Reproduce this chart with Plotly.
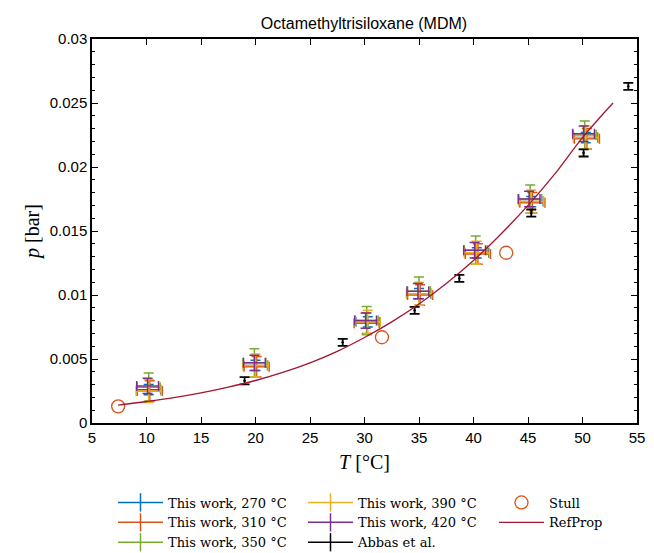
import plotly.graph_objects as go

# ---- data ----
series_names = ["This work, 270 °C", "This work, 310 °C", "This work, 350 °C",
                "This work, 390 °C", "This work, 420 °C"]
series_colors = ["#0072BD", "#D95319", "#77AC30", "#EDB120", "#7E2F8E"]

T_270 = [10.2, 20.0, 30.3, 35.0, 40.3, 45.3, 50.3]
p_270 = [0.0026, 0.0045, 0.0079, 0.0101, 0.0133, 0.0173, 0.0223]
ep_270 = [0.0004, 0.0004, 0.0004, 0.0004, 0.0004, 0.0004, 0.0004]
eT_270 = [1.1, 1.1, 1.1, 1.1, 1.1, 1.1, 1.1]

T_310 = [10.3, 20.1, 30.2, 35.1, 40.4, 45.4, 50.4]
p_310 = [0.0025, 0.0044, 0.0078, 0.0100, 0.0132, 0.0172, 0.0222]
ep_310 = [0.0008, 0.0008, 0.0008, 0.0008, 0.0008, 0.0008, 0.0008]
eT_310 = [1.15, 1.15, 1.15, 1.15, 1.15, 1.15, 1.15]

T_350 = [10.2, 19.9, 30.2, 35.0, 40.2, 45.2, 50.2]
p_350 = [0.0028, 0.0047, 0.0080, 0.0103, 0.0135, 0.0175, 0.0225]
ep_350 = [0.0011, 0.0011, 0.0011, 0.0011, 0.0011, 0.0011, 0.0011]
eT_350 = [1.05, 1.05, 1.05, 1.05, 1.05, 1.05, 1.05]

T_390 = [10.2, 20.0, 30.3, 35.0, 40.3, 45.3, 50.3]
p_390 = [0.0025, 0.0045, 0.0079, 0.0101, 0.0133, 0.0173, 0.0223]
ep_390 = [0.0009, 0.0009, 0.0009, 0.0009, 0.0009, 0.0009, 0.0009]
eT_390 = [1.15, 1.15, 1.15, 1.15, 1.15, 1.15, 1.15]

T_420 = [10.1, 19.9, 30.1, 34.9, 40.1, 45.1, 50.1]
p_420 = [0.0029, 0.0047, 0.0080, 0.0103, 0.0135, 0.0175, 0.0226]
ep_420 = [0.0006, 0.0006, 0.0006, 0.0006, 0.0006, 0.0006, 0.0006]
eT_420 = [1.0, 1.0, 1.0, 1.0, 1.0, 1.0, 1.0]

T_abbas = [19.0, 28.0, 34.6, 38.7, 45.3, 50.1, 54.2]
p_abbas = [0.0033, 0.0063, 0.0088, 0.0113, 0.0164, 0.0211, 0.0263]
ep_abbas = [0.00028, 0.00028, 0.00028, 0.00028, 0.00028, 0.00028, 0.00028]
eT_abbas = [0.12, 0.12, 0.12, 0.12, 0.12, 0.12, 0.12]

T_stull = [7.4, 31.6, 43.0]
p_stull = [0.0013, 0.0067, 0.0133]

T_ref = [7.4, 10.0, 12.5, 15.0, 17.5, 20.0, 22.5, 25.0, 27.5, 30.0, 32.5,
         35.0, 37.5, 40.0, 42.5, 45.0, 47.5, 50.0, 52.8]
p_ref = [0.00140, 0.00168, 0.00198, 0.00235, 0.00280, 0.00332, 0.00395,
         0.00470, 0.00560, 0.00668, 0.00790, 0.00930, 0.01090, 0.01270,
         0.01475, 0.01700, 0.01950, 0.02230, 0.02500]

work_T = [T_270, T_310, T_350, T_390, T_420]
work_p = [p_270, p_310, p_350, p_390, p_420]
work_ep = [ep_270, ep_310, ep_350, ep_390, ep_420]
work_eT = [eT_270, eT_310, eT_350, eT_390, eT_420]
work_legend = ["legend", "legend", "legend", "legend2", "legend2"]

serif = "Liberation Serif"
legend_serif = "DejaVu Serif"
sans = "Liberation Sans"

fig = go.Figure()

for name, col, T, p, ep, eT, lg in zip(series_names, series_colors, work_T, work_p,
                                       work_ep, work_eT, work_legend):
    fig.add_trace(go.Scatter(
        x=T, y=p, mode="markers", marker=dict(size=1, color="rgba(0,0,0,0)"),
        error_y=dict(type="data", array=ep, color=col, thickness=1.5, width=5),
        error_x=dict(type="data", array=eT, color=col, thickness=1.5, width=5),
        showlegend=False, hoverinfo="x+y", name=name))
    fig.add_trace(go.Scatter(
        x=[None], y=[None], mode="lines+markers", name=name, legend=lg,
        line=dict(color=col, width=1.5),
        marker=dict(symbol="line-ns", size=13, line=dict(color=col, width=1.5))))

fig.add_trace(go.Scatter(
    x=T_abbas, y=p_abbas, mode="markers", marker=dict(size=1, color="rgba(0,0,0,0)"),
    error_y=dict(type="data", array=ep_abbas, color="black", thickness=1.8, width=5),
    error_x=dict(type="data", array=eT_abbas, color="black", thickness=1.5, width=0),
    showlegend=False, name="Abbas et al."))
fig.add_trace(go.Scatter(
    x=[None], y=[None], mode="lines+markers", name="Abbas et al.", legend="legend2",
    line=dict(color="black", width=1.5),
    marker=dict(symbol="line-ns", size=13, line=dict(color="black", width=1.5))))

fig.add_trace(go.Scatter(
    x=T_stull, y=p_stull, mode="markers", name="Stull", legend="legend3",
    marker=dict(symbol="circle-open", size=13, color="#D95319",
                line=dict(color="#D95319", width=1.3))))

fig.add_trace(go.Scatter(
    x=T_ref, y=p_ref, mode="lines", name="RefProp", legend="legend3",
    line=dict(color="#A2142F", width=1.3, shape="spline")))

axis_common = dict(showline=True, linecolor="black", linewidth=1.5, mirror="ticks",
                   ticks="inside", tickcolor="black", tickwidth=1.2, ticklen=6,
                   showgrid=False, zeroline=False,
                   tickfont=dict(family=sans, size=15, color="black"))

fig.update_xaxes(range=[5, 55], tick0=5, dtick=5,
                 title=dict(text="<i>T</i> [°C]", font=dict(family=serif, size=20, color="black"),
                            standoff=10),
                 **axis_common)
fig.update_yaxes(range=[0, 0.03], tick0=0, dtick=0.005,
                 minor=dict(ticks="inside", dtick=0.001, ticklen=3, tickcolor="black", tickwidth=1),
                 title=dict(text="<i>p</i> [bar]", font=dict(family=serif, size=20, color="black"),
                            standoff=5),
                 **axis_common)

leg_common = dict(orientation="v", yanchor="top", y=-0.168, xanchor="left",
                  itemwidth=45, borderwidth=0, bgcolor="rgba(0,0,0,0)",
                  font=dict(family=legend_serif, size=13, color="black"), tracegroupgap=0)

fig.update_layout(
    width=654, height=553,
    margin=dict(l=92, r=17, t=39, b=130, autoexpand=False),
    paper_bgcolor="white", plot_bgcolor="white",
    title=dict(text="Octamethyltrisiloxane (MDM)", x=364 / 654, xanchor="center",
               y=1 - 23 / 553, yanchor="middle",
               font=dict(family=sans, size=16, color="black")),
    legend=dict(x=(113 - 92) / 545, **leg_common),
    legend2=dict(x=(303 - 92) / 545, **leg_common),
    legend3=dict(x=(494 - 92) / 545, **leg_common),
    showlegend=True,
)

fig.write_html("out.html")
